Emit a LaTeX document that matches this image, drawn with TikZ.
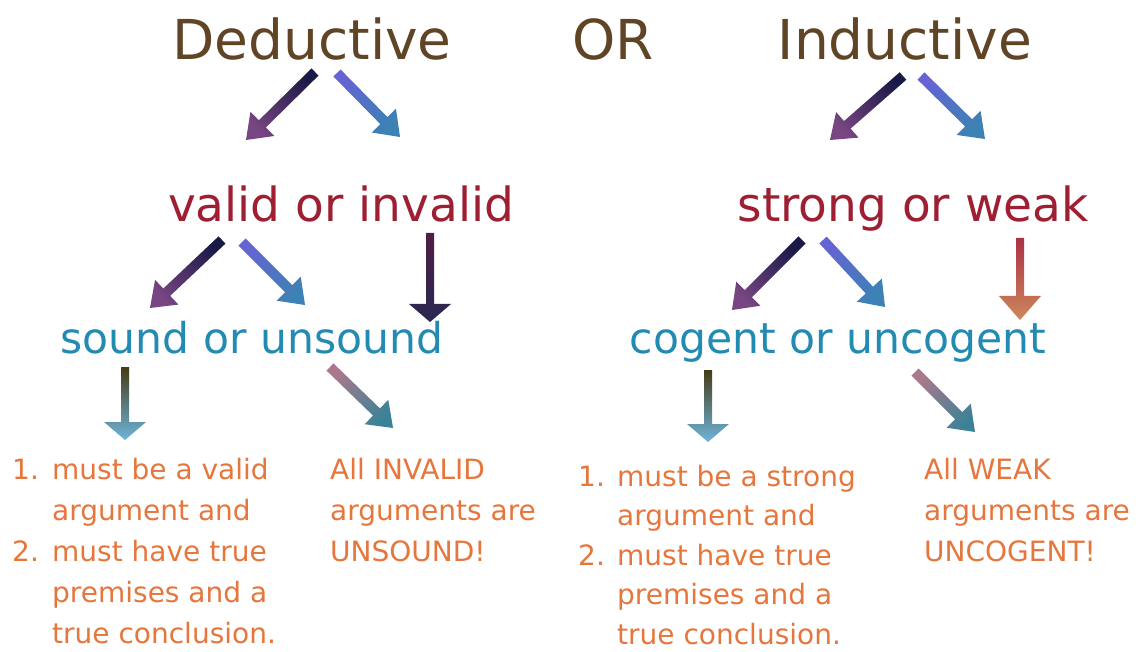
\documentclass[tikz,border=0pt]{standalone}
\usepackage{fontspec}
\setmainfont{DejaVu Sans}
\usetikzlibrary{calc}
\definecolor{titlebrown}{RGB}{95,68,38}
\definecolor{validred}{RGB}{158,30,50}
\definecolor{soundteal}{RGB}{35,138,178}
\definecolor{noteorange}{RGB}{230,118,60}
% arrow gradient colours
\definecolor{lA}{RGB}{25,25,70}\definecolor{lB}{RGB}{125,40,60}\definecolor{lC}{RGB}{120,70,130}
\definecolor{rA}{RGB}{100,100,210}\definecolor{rB}{RGB}{80,35,70}\definecolor{rC}{RGB}{60,130,180}
\definecolor{vA}{RGB}{80,30,70}\definecolor{vB}{RGB}{210,200,70}\definecolor{vC}{RGB}{40,40,80}
\definecolor{sA}{RGB}{170,50,70}\definecolor{sB}{RGB}{30,30,90}\definecolor{sC}{RGB}{205,135,90}
\definecolor{kA}{RGB}{70,60,20}\definecolor{kB}{RGB}{230,190,130}\definecolor{kC}{RGB}{110,180,220}
\definecolor{dA}{RGB}{170,120,140}\definecolor{dB}{RGB}{40,20,40}\definecolor{dC}{RGB}{60,130,150}
% #1 from, #2 to, #3 half shaft, #4 half head, #5 head length, #6-#8 colours
\newcommand\garrow[8]{%
  \path let \p1=($(#2)-(#1)$), \n1={atan2(\y1,\x1)} in
    \pgfextra{\pgfmathparse{\n1+90}\xdef\garsh{\pgfmathresult}};
  \coordinate (gp) at ($(#2)!#5!(#1)$);
  \shade[top color=#6, middle color=#7, bottom color=#8, shading angle=\garsh]
    ($(#1)!#3!90:(#2)$) -- ($(gp)!#3!90:(#2)$) -- ($(gp)!#4!90:(#2)$) -- (#2)
    -- ($(gp)!#4!-90:(#2)$) -- ($(gp)!#3!-90:(#2)$) -- ($(#1)!#3!-90:(#2)$) -- cycle;
}
\tikzset{
  title/.style={text=titlebrown, font=\fontsize{55}{60}\selectfont, anchor=base, inner sep=0pt},
  second/.style={text=validred, font=\fontsize{47}{52}\selectfont, anchor=base, inner sep=0pt},
  third/.style={text=soundteal, font=\fontsize{42.5}{48}\selectfont, anchor=base, inner sep=0pt},
  note/.style={text=noteorange, font=\fontsize{28}{41}\selectfont, anchor=base west, inner sep=0pt},
  rnote/.style={note, font=\fontsize{28}{39.5}\selectfont},
}
\begin{document}
\begin{tikzpicture}[x=1pt,y=-1pt]
\useasboundingbox[fill=white] (0,0) rectangle (1138,652);
% titles
\node[title] (ded) at (312,60) {Deductive};
\node[title] (or) at (613,60) {OR};
\node[title] (ind) at (905,60) {Inductive};
\node[second] (valid) at (341,222) {valid or invalid};
\node[second] (strong) at (913,222) {strong or weak};
\node[third] (sound) at (252,353) {sound or unsound};
\node[third] (cogent) at (838,353) {cogent or uncogent};
% notes
\node[note] (soundnote) at (12,479) {\begin{tabular}[t]{@{}p{40pt}@{}l@{}}1. & must be a valid\\ & argument and\\ 2. & must have true\\ & premises and a\\ & true conclusion.\end{tabular}};
\node[note] (unsoundnote) at (330,479) {\begin{tabular}[t]{@{}l@{}}All INVALID\\ arguments are\\ UNSOUND!\end{tabular}};
\node[rnote] (cogentnote) at (578,486) {\begin{tabular}[t]{@{}p{39pt}@{}l@{}}1. & must be a strong\\ & argument and\\ 2. & must have true\\ & premises and a\\ & true conclusion.\end{tabular}};
\node[note] (uncogentnote) at (924,479) {\begin{tabular}[t]{@{}l@{}}All WEAK\\ arguments are\\ UNCOGENT!\end{tabular}};
% arrow end points
\coordinate (d1s) at (315,72);  \coordinate (d1e) at (246,140);
\coordinate (d2s) at (337,73);  \coordinate (d2e) at (400,137);
\coordinate (i1s) at (903,76);  \coordinate (i1e) at (830,140);
\coordinate (i2s) at (921,76);  \coordinate (i2e) at (985,139);
\coordinate (v1s) at (222,240); \coordinate (v1e) at (150,308);
\coordinate (v2s) at (242,242); \coordinate (v2e) at (305,305);
\coordinate (v3s) at (430,233); \coordinate (v3e) at (430,322);
\coordinate (s1s) at (802,240); \coordinate (s1e) at (732,310);
\coordinate (s2s) at (823,240); \coordinate (s2e) at (885,307);
\coordinate (s3s) at (1020,238); \coordinate (s3e) at (1020,320);
\coordinate (u1s) at (125,367); \coordinate (u1e) at (125,440);
\coordinate (u2s) at (330,367); \coordinate (u2e) at (393,428);
\coordinate (c1s) at (708,370); \coordinate (c1e) at (708,442);
\coordinate (c2s) at (915,372); \coordinate (c2e) at (975,432);
% arrows
\garrow{d1s}{d1e}{5pt}{17pt}{23pt}{lA}{lB}{lC}
\garrow{d2s}{d2e}{5pt}{17pt}{23pt}{rA}{rB}{rC}
\garrow{i1s}{i1e}{5pt}{17pt}{23pt}{lA}{lB}{lC}
\garrow{i2s}{i2e}{5pt}{17pt}{23pt}{rA}{rB}{rC}
\garrow{v1s}{v1e}{5pt}{17pt}{23pt}{lA}{lB}{lC}
\garrow{v2s}{v2e}{5pt}{17pt}{23pt}{rA}{rB}{rC}
\garrow{v3s}{v3e}{4pt}{21pt}{18pt}{vA}{vB}{vC}
\garrow{s1s}{s1e}{5pt}{17pt}{23pt}{lA}{lB}{lC}
\garrow{s2s}{s2e}{5pt}{17pt}{23pt}{rA}{rB}{rC}
\garrow{s3s}{s3e}{4pt}{21pt}{24pt}{sA}{sB}{sC}
\garrow{u1s}{u1e}{4pt}{21pt}{18pt}{kA}{kB}{kC}
\garrow{u2s}{u2e}{5pt}{17pt}{23pt}{dA}{dB}{dC}
\garrow{c1s}{c1e}{4pt}{21pt}{18pt}{kA}{kB}{kC}
\garrow{c2s}{c2e}{5pt}{17pt}{23pt}{dA}{dB}{dC}
\end{tikzpicture}
\end{document}
